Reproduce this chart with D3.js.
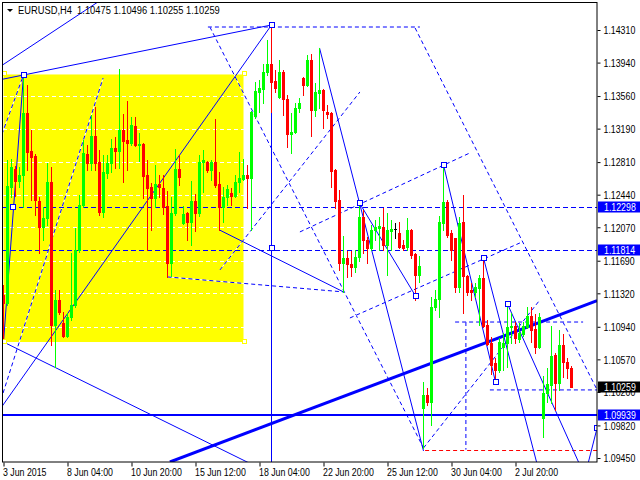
<!DOCTYPE html>
<html><head><meta charset="utf-8">
<script src="https://cdnjs.cloudflare.com/ajax/libs/d3/7.8.5/d3.min.js"></script>
<style>
body{margin:0;background:#fff}
svg{display:block}
text{font-family:"Liberation Sans",Arial,sans-serif;font-size:11px}
</style>
</head><body><svg id="c" width="640" height="480"></svg>
<script>
// ---------- data ----------
const titleText = "EURUSD,H4  1.10475 1.10496 1.10255 1.10259";
const openP = [1.11301,1.11211,1.12528,1.12732,1.12596,1.12664,1.13368,1.12937,1.12880,1.12369,
1.12074,1.12176,1.12584,1.10960,1.11245,1.10983,1.10836,1.11052,1.11188,1.11812,
1.12323,1.12903,1.12800,1.13107,1.12811,1.12244,1.12687,1.12800,1.12971,1.12937,
1.13175,1.13061,1.13027,1.13220,1.13005,1.13016,1.12664,1.12528,1.12403,1.12562,
1.12516,1.12312,1.11665,1.12232,1.12732,1.12119,1.12232,1.12130,1.12369,1.12232,
1.12811,1.12811,1.12721,1.12811,1.12562,1.12300,1.12415,1.12460,1.12426,1.12584,
1.12618,1.12664,1.12630,1.13334,1.13606,1.13640,1.13833,1.13924,1.13731,1.13549,
1.13833,1.13527,1.13129,1.13152,1.13425,1.13765,1.13686,1.13970,1.13402,1.13595,
1.13629,1.13379,1.13368,1.12721,1.12380,1.11665,1.11721,1.11653,1.11619,1.11733,
1.12187,1.11926,1.11835,1.12039,1.12062,1.12074,1.11869,1.12028,1.12051,1.12006,
1.11869,1.11846,1.12039,1.11767,1.11528,1.10018,1.10166,1.10086,1.11165,1.11256,
1.12119,1.12357,1.12006,1.11948,1.11392,1.12130,1.11517,1.11358,1.11336,1.11381,
1.11494,1.10960,1.10756,1.10529,1.10450,1.10711,1.10756,1.10938,1.10949,1.10802,
1.10858,1.10938,1.11063,1.10915,1.10711,1.09905,1.10188,1.10279,1.10620,1.10302,
1.10733,1.10540,1.10475];
const highP = [1.11415,1.12834,1.12845,1.12766,1.12755,1.13799,1.13686,1.13175,1.12903,1.12415,
1.12300,1.12800,1.12755,1.11358,1.11358,1.11108,1.11097,1.11778,1.12062,1.12437,
1.13061,1.13005,1.13345,1.13436,1.12948,1.12891,1.12891,1.13073,1.13095,1.13868,
1.13357,1.13504,1.13323,1.13323,1.13141,1.13027,1.12834,1.12573,1.12777,1.12664,
1.12664,1.12482,1.12415,1.12959,1.12891,1.12312,1.12244,1.12596,1.12448,1.12891,
1.12948,1.12823,1.12834,1.13300,1.12698,1.12528,1.12550,1.12516,1.12664,1.12925,
1.12845,1.12777,1.13390,1.13720,1.13743,1.13924,1.14197,1.14367,1.13856,1.13970,
1.13856,1.13572,1.13368,1.13481,1.13538,1.13777,1.14026,1.14038,1.13708,1.14106,
1.13640,1.13459,1.13379,1.12732,1.12494,1.11971,1.11801,1.11801,1.11812,1.12346,
1.12266,1.11960,1.12096,1.12153,1.12187,1.12289,1.12232,1.12153,1.12119,1.12130,
1.11926,1.12176,1.12051,1.11778,1.11744,1.10313,1.10245,1.11279,1.11358,1.12198,
1.12777,1.12380,1.12039,1.11948,1.12187,1.12437,1.11528,1.11438,1.11438,1.11528,
1.11721,1.11017,1.10824,1.10586,1.10813,1.10870,1.11199,1.11097,1.10994,1.10983,
1.10994,1.11165,1.11165,1.11086,1.11097,1.10381,1.10472,1.10949,1.10642,1.10904,
1.10858,1.10586,1.10496];
const lowP = [1.10767,1.11188,1.12415,1.12426,1.12528,1.12300,1.12721,1.12380,1.12209,1.11778,
1.11926,1.12096,1.10733,1.10483,1.11086,1.10824,1.10824,1.11017,1.11165,1.11789,
1.12300,1.12721,1.12721,1.12721,1.12209,1.12187,1.12630,1.12698,1.12743,1.12743,
1.12584,1.12721,1.13005,1.12993,1.12823,1.12403,1.11812,1.12039,1.12300,1.12415,
1.12221,1.11506,1.11517,1.12209,1.12550,1.12107,1.11926,1.11869,1.12028,1.12198,
1.12471,1.12698,1.12607,1.12528,1.12039,1.12130,1.12323,1.12323,1.12415,1.12471,
1.12607,1.12289,1.12039,1.13311,1.13379,1.13481,1.13799,1.13379,1.13606,1.13538,
1.13345,1.12982,1.12914,1.13141,1.13379,1.13572,1.13674,1.13107,1.13334,1.13425,
1.13198,1.13311,1.12528,1.12289,1.11585,1.11336,1.11506,1.11517,1.11562,1.11687,
1.11778,1.11665,1.11812,1.11926,1.11812,1.11812,1.11528,1.11812,1.11948,1.11835,
1.11812,1.11812,1.11721,1.11245,1.11449,1.09564,1.10052,1.09825,1.11131,1.11052,
1.12039,1.11960,1.11699,1.11336,1.11336,1.11097,1.11301,1.11245,1.11279,1.10960,
1.10938,1.10733,1.10404,1.10302,1.10427,1.10450,1.10483,1.10756,1.10756,1.10767,
1.10836,1.10926,1.10767,1.10642,1.10699,1.09689,1.10086,1.10075,1.09995,1.10223,
1.10370,1.10359,1.10255];
const closeP = [1.11211,1.12539,1.12755,1.12596,1.12664,1.13368,1.12925,1.12869,1.12380,1.12074,
1.12176,1.12584,1.10960,1.11245,1.11108,1.10836,1.11052,1.11188,1.11812,1.12323,
1.12914,1.12800,1.13107,1.12800,1.12244,1.12698,1.12800,1.12971,1.12937,1.13175,
1.13050,1.13027,1.13232,1.13005,1.13016,1.12653,1.12516,1.12403,1.12562,1.12528,
1.12300,1.11665,1.12232,1.12732,1.12641,1.12221,1.12130,1.12369,1.12232,1.12811,
1.12834,1.12721,1.12811,1.12550,1.12300,1.12415,1.12505,1.12426,1.12584,1.12630,
1.12664,1.12630,1.13379,1.13618,1.13652,1.13833,1.13924,1.13720,1.13652,1.13833,
1.13527,1.13129,1.13152,1.13425,1.13481,1.13686,1.13970,1.13402,1.13606,1.13629,
1.13402,1.13357,1.12709,1.12369,1.11665,1.11721,1.11653,1.11619,1.11733,1.12187,
1.11926,1.11835,1.12039,1.12074,1.12085,1.11869,1.12039,1.12051,1.12051,1.11846,
1.11835,1.12039,1.11756,1.11528,1.11631,1.10166,1.10086,1.11165,1.11256,1.12130,
1.12357,1.11983,1.11812,1.11392,1.12119,1.11517,1.11336,1.11336,1.11392,1.11494,
1.10949,1.10745,1.10506,1.10450,1.10767,1.10756,1.10938,1.10949,1.10813,1.10870,
1.10949,1.11063,1.10904,1.10711,1.11052,1.10188,1.10291,1.10609,1.10302,1.10733,
1.10540,1.10472,1.10259];

const priceTicks = [1.14310,1.13940,1.13560,1.13190,1.12810,1.12440,1.12070,1.11690,1.11320,1.10940,1.10570,1.10200,1.09820,1.09450];
const timeTickBars = [0,16,32,48,64,80,96,112,128];
const timeTickLabels = ["3 Jun 2015","8 Jun 04:00","10 Jun 20:00","15 Jun 12:00","18 Jun 04:00","22 Jun 20:00","25 Jun 12:00","30 Jun 04:00","2 Jul 20:00"];

// analysis objects, anchors in [bar index, price]
const rectZone = [0, 1.13805, 60, 1.10767];
const dashedLevels = [1.12298, 1.11814];
const solidLevel = 1.09939;
const redDashedLevel = [105.4, 1.09545, 149];
const solidLines = [
  [-1, 1.13744, 67, 1.14367],
  [-1, 1.13890, 26, 1.14700],
  [-2, 1.09931, 67, 1.14367],
  [0, 1.10767, 5, 1.13799],
  [0, 1.10767, 62, 1.09380],
  [79, 1.14106, 105, 1.09530],
  [89, 1.12346, 103, 1.11290],
  [54, 1.12039, 85, 1.11336],
  [110, 1.12777, 123, 1.10313],
  [120, 1.11721, 133.4, 1.09380],
  [126, 1.11199, 144, 1.09380],
  [146.1, 1.09380, 148.4, 1.09791]
];
const dashedLines = [
  [51.1, 1.14344, 104.1, 1.14344],
  [51.6, 1.14344, 105, 1.09564],
  [102.9, 1.14333, 148.4, 1.10223],
  [54.1, 1.11585, 89.1, 1.13606],
  [105, 1.09564, 134.1, 1.11245],
  [41, 1.11506, 85, 1.11336],
  [74.1, 1.12017, 116.6, 1.12914],
  [86.6, 1.11040, 129.1, 1.11892],
  [-0.1, 1.10188, 24.9, 1.13765],
  [-1, 1.13050, 5, 1.13799],
  [112.9, 1.10994, 144.9, 1.10994],
  [115.6, 1.10994, 115.6, 1.09545],
  [121.6, 1.10223, 149, 1.10223]
];
const thickLine = [41.6, 1.09405, 148.4, 1.11236];
const verticalLine = [67, 1.14367];
const blueMarkers = [[5,1.13799],[2.4,1.12300],[67,1.14367],[67,1.11835],[89,1.12346],[103,1.11290],[110,1.12777],[120,1.11721],[126,1.11199],[123,1.10313],[148.4,1.09791]];
const priceBoxes = [[1.12298,"#0000ff"],[1.11814,"#0000ff"],[1.09939,"#0000ff"],[1.10259,"#000000"]];

// ---------- drawing ----------
const svg = d3.select("#c");
const L = 3, R = 597, T = 2, B = 462;
const NARROW = 0.8;
const x = d3.scaleLinear().domain([-0.125, 148.375]).range([3, 597]);
const y = d3.scaleLinear().domain([1.09450, 1.14310]).range([458, 30]);

svg.append("defs").append("clipPath").attr("id","pc").append("rect")
  .attr("x",L).attr("y",T+1).attr("width",R-L).attr("height",B-T-1);
const g = svg.append("g").attr("clip-path","url(#pc)");

// yellow zone
g.append("rect").attr("x",x(rectZone[0])).attr("y",y(rectZone[1]))
  .attr("width",x(rectZone[2])-x(rectZone[0])).attr("height",y(rectZone[3])-y(rectZone[1]))
  .attr("fill","#ffff00");

// grid (white dashed, visible only over the zone)
g.selectAll(".grid").data(priceTicks).enter().append("line")
  .attr("x1",L).attr("x2",R).attr("y1",d=>Math.round(y(d))+0.5).attr("y2",d=>Math.round(y(d))+0.5)
  .attr("stroke","#ffffff").attr("stroke-dasharray","4,3");

function seg(sel, d, dash, w){
  sel.append("line").attr("x1",x(d[0])).attr("y1",y(d[1])).attr("x2",x(d[2])).attr("y2",y(d[3]))
    .attr("stroke","#0000ff").attr("stroke-width",w||1).attr("stroke-dasharray",dash||null);
}
dashedLines.forEach(d=>{
  g.append("line").attr("x1",x(d[0])).attr("y1",y(d[1])).attr("x2",x(d[2])).attr("y2",y(d[3]))
   .attr("stroke","#ffffff");
  seg(g,d,"4,3");
});
dashedLevels.forEach(p=>{
  g.append("line").attr("x1",L).attr("x2",R).attr("y1",Math.round(y(p))+0.5).attr("y2",Math.round(y(p))+0.5)
   .attr("stroke","#0000ff").attr("stroke-dasharray","5,3");
});
g.append("line").attr("x1",x(redDashedLevel[0])).attr("x2",x(redDashedLevel[2]))
  .attr("y1",Math.round(y(redDashedLevel[1]))+0.5).attr("y2",Math.round(y(redDashedLevel[1]))+0.5)
  .attr("stroke","#ff0000").attr("stroke-dasharray","4,3");
solidLines.forEach(d=>seg(g,d,null,1));
g.append("line").attr("x1",L).attr("x2",R).attr("y1",Math.round(y(solidLevel))).attr("y2",Math.round(y(solidLevel)))
  .attr("stroke","#0000ff").attr("stroke-width",2);
seg(g,thickLine,null,3);
g.append("line").attr("x1",x(verticalLine[0])).attr("x2",x(verticalLine[0]))
  .attr("y1",y(verticalLine[1])).attr("y2",B).attr("stroke","#0000ff");

// candles
const idx = d3.range(openP.length);
const cg = g.append("g");
idx.forEach(i=>{
  const o=openP[i], h=highP[i], l=lowP[i], c=closeP[i];
  const col = c>o ? "#00ff00" : (c<o ? "#ff0000" : "#000000");
  const cx = x(i);
  cg.append("line").attr("x1",cx).attr("x2",cx).attr("y1",Math.round(y(h))).attr("y2",Math.round(y(l))+1)
    .attr("stroke",col);
  const t = Math.round(y(Math.max(o,c))), b = Math.round(y(Math.min(o,c)));
  cg.append("rect").attr("x",cx-1.5).attr("y",t).attr("width",3).attr("height",Math.max(1,b-t+1))
    .attr("fill",col);
});

// markers
g.selectAll(".mk").data(blueMarkers).enter().append("rect")
  .attr("x",d=>Math.round(x(d[0]))-2.5).attr("y",d=>Math.round(y(d[1]))-2.5)
  .attr("width",5).attr("height",5).attr("fill","#ffffff").attr("stroke","#0000ff");
[[rectZone[0],rectZone[1]],[rectZone[2],rectZone[1]],[rectZone[0],rectZone[3]],[rectZone[2],rectZone[3]]].forEach(d=>{
  g.append("rect").attr("x",Math.round(x(d[0]))-1.5).attr("y",Math.round(y(d[1]))-2.5)
   .attr("width",4).attr("height",4).attr("fill","#ffffff").attr("stroke","#ffff00");
});

// frame
svg.append("rect").attr("x",2.5).attr("y",2.5).attr("width",R-2.5).attr("height",B-2.5)
  .attr("fill","none").attr("stroke","#000");

// right axis
const ya = d3.axisRight(y).tickValues(priceTicks).tickFormat(d3.format(".5f")).tickSize(3).tickPadding(3);
const yg = svg.append("g").attr("transform",`translate(${R+0.5},0)`).call(ya);
yg.select(".domain").remove();
yg.selectAll("text").attr("x",null).attr("dy","0.34em").attr("fill","#000")
  .attr("transform",`translate(6,0) scale(${NARROW},1)`)
  .style("font-size","11px").style("font-family","'Liberation Sans',Arial,sans-serif");
yg.selectAll("line").attr("stroke","#000");

// bottom axis
const xa = d3.axisBottom(x).tickValues(timeTickBars).tickFormat((d,i)=>timeTickLabels[i]).tickSize(4).tickPadding(3);
const xg = svg.append("g").attr("transform",`translate(0,${B+0.5})`).call(xa);
xg.select(".domain").remove();
xg.selectAll("text").attr("text-anchor","start").attr("y",null).attr("dy",null)
  .attr("transform",`translate(-1,13.5) scale(${NARROW},1)`).attr("fill","#000")
  .style("font-size","11px").style("font-family","'Liberation Sans',Arial,sans-serif");
xg.selectAll("line").attr("stroke","#000");

// price boxes
priceBoxes.forEach(d=>{
  const yy = Math.round(y(d[0]));
  svg.append("rect").attr("x",598).attr("y",yy-5.5).attr("width",42).attr("height",11).attr("fill",d[1]);
  svg.append("text").attr("transform",`translate(604,${yy+4}) scale(${NARROW},1)`)
    .attr("fill","#fff").text(d[0].toFixed(5));
});

// title
svg.append("path").attr("d","M7,9 L13,9 L10,12 Z").attr("fill","#000");
svg.append("text").attr("transform",`translate(18,14) scale(0.85,1)`).attr("fill","#000")
  .attr("xml:space","preserve").style("white-space","pre").text(titleText);
</script>
</body></html>
